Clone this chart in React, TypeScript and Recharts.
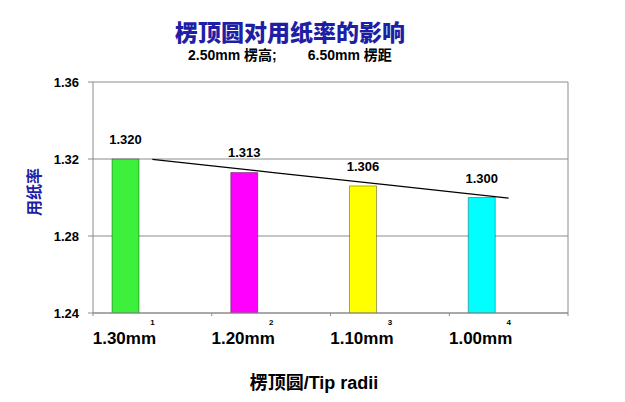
import React from "react";
import { ComposedChart, Bar, Line, XAxis, YAxis, CartesianGrid, Cell, LabelList } from "recharts";

const categories = ["1.30mm", "1.20mm", "1.10mm", "1.00mm"];
const indexLabels = ["1", "2", "3", "4"];
const ratios = [1.32, 1.313, 1.306, 1.3];
const trend = [1.3198, 1.3131, 1.3064, 1.2997];
const barColors = ["#3cf03c", "#ff00ff", "#ffff00", "#00ffff"];
const yTicks = [1.24, 1.28, 1.32, 1.36];

const data = categories.map((c, i) => ({ cat: c, idx: indexLabels[i], value: ratios[i], dummy: null, trend: trend[i] }));

const FONT = "'Liberation Sans', Arial, 'Noto Sans CJK SC', sans-serif";
const GRID = "#8c8c8c";

const XTick = (props: any) => {
  const { x, y, payload, index } = props;
  const off = payload && payload.offset ? payload.offset : 59;
  return (
    <g>
      <line x1={x - off} x2={x - off} y1={y} y2={y + 3} stroke={GRID} />
      {index === categories.length - 1 && <line x1={x + off} x2={x + off} y1={y} y2={y + 3} stroke={GRID} />}
      <text x={x} y={y + 12} textAnchor="middle" fontSize={8} fontWeight="bold" fill="#000" fontFamily={FONT}>
        {indexLabels[index]}
      </text>
      <text x={x - 28} y={y + 31} textAnchor="middle" fontSize={17} fontWeight="bold" fill="#000" fontFamily={FONT}>
        {payload.value}
      </text>
    </g>
  );
};

export default function App() {
  return (
    <div style={{ position: "absolute", left: 0, top: 0, width: 625, height: 402, background: "#fff", fontFamily: FONT }}>
      <div style={{ position: "absolute", left: 0, width: 580, top: 17, textAlign: "center", fontSize: 23, fontWeight: 900, color: "#1f1fa6", fontFamily: "'Noto Sans CJK SC', sans-serif", lineHeight: "28px" }}>
        楞顶圆对用纸率的影响
      </div>
      <div style={{ position: "absolute", left: 188, top: 47, fontSize: 14, fontWeight: "bold", color: "#000", whiteSpace: "pre", lineHeight: "16px" }}>
        {"2.50mm 楞高;        6.50mm 楞距"}
      </div>
      <div style={{ position: "absolute", left: 33, top: 192, transform: "translate(-50%, -50%) rotate(-90deg)", fontSize: 16, fontWeight: "bold", color: "#1f1fa6", whiteSpace: "nowrap", fontFamily: "'Noto Sans CJK SC', sans-serif" }}>
        用纸率
      </div>
      <div style={{ position: "absolute", left: 0, width: 628, top: 372, textAlign: "center", fontSize: 18, fontWeight: "bold", color: "#000", lineHeight: "22px" }}>
        楞顶圆/Tip radii
      </div>
      <ComposedChart width={625} height={402} data={data} margin={{ top: 82, right: 0, bottom: 0, left: 0 }} barSize={27} barGap={26}>
        <CartesianGrid vertical={false} stroke={GRID} />
        <XAxis dataKey="cat" height={89} tickLine={false} tickSize={0} tickMargin={0} axisLine={{ stroke: GRID }} tick={<XTick />} interval={0} />
        <YAxis
          domain={[1.24, 1.36]}
          ticks={yTicks}
          width={93}
          tickFormatter={(v: number) => v.toFixed(2)}
          tick={{ fontSize: 13, fontWeight: "bold", fill: "#000", fontFamily: FONT }}
          tickLine={{ stroke: GRID }}
          axisLine={{ stroke: GRID }}
          tickSize={5}
          tickMargin={9}
          allowDataOverflow
        />
        <YAxis yAxisId="r" orientation="right" width={57} domain={[1.24, 1.36]} tick={false} tickLine={false} axisLine={{ stroke: GRID }} />
        <Bar dataKey="value" isAnimationActive={false} stroke="#000" strokeOpacity={0.35}>
          {data.map((d, i) => (
            <Cell key={i} fill={barColors[i]} />
          ))}
          <LabelList dataKey="value" position="top" offset={15} formatter={(v: any) => Number(v).toFixed(3)} style={{ fontSize: 13, fontWeight: "bold", fill: "#000", fontFamily: FONT }} />
        </Bar>
        <Bar dataKey="dummy" isAnimationActive={false} fill="none" />
        <Line dataKey="trend" type="linear" stroke="#000" strokeWidth={1.3} dot={false} activeDot={false} isAnimationActive={false} />
      </ComposedChart>
    </div>
  );
}
